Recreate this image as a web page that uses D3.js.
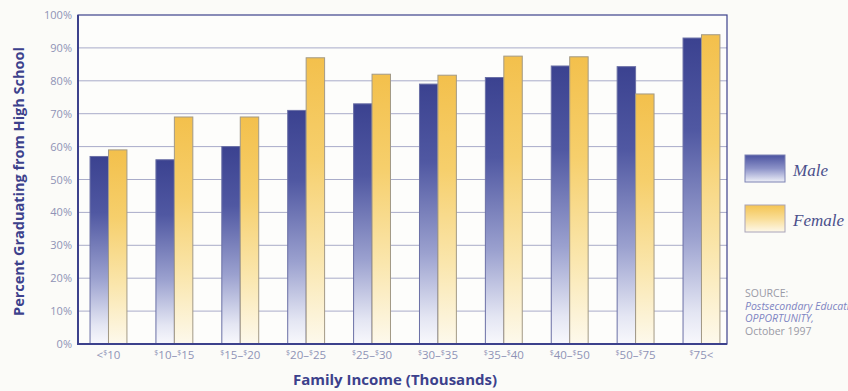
<!DOCTYPE html>
<html>
<head>
<meta charset="utf-8">
<script src="https://cdn.jsdelivr.net/npm/d3@7/dist/d3.min.js"></script>
<style>
  html, body { margin: 0; padding: 0; background: #fbfbf8; }
  svg { display: block; }
</style>
</head>
<body>
<svg id="chart" width="848" height="391"></svg>
<script>
// Income brackets (thousands of dollars) and graduation rates by sex
const categories = ["<$10", "$10–$15", "$15–$20", "$20–$25", "$25–$30", "$30–$35", "$35–$40", "$40–$50", "$50–$75", "$75<"];
const maleValues   = [57, 56, 60, 71, 73, 79, 81, 84.5, 84.3, 93];
const femaleValues = [59, 69, 69, 87, 82, 81.7, 87.5, 87.3, 76, 94];
const seriesNames = ["Male", "Female"];
const yTicks = [0, 10, 20, 30, 40, 50, 60, 70, 80, 90, 100];
const sourceLines = ["SOURCE:", "Postsecondary Education", "OPPORTUNITY,", "October 1997"];

const svg = d3.select("#chart");
const plotLeft = 78, plotRight = 727, plotTop = 15, plotBottom = 344;

const x = d3.scaleBand().domain(categories).range([plotLeft, plotRight])
  .paddingInner(0.44).paddingOuter(0.145).align(0.63);
const xs = d3.scaleBand().domain(seriesNames).range([0, x.bandwidth()]);
const y = d3.scaleLinear().domain([0, 100]).range([plotBottom, plotTop]);

const navy = "#3c418c";
const labelGrey = "#8f93b6";

// gradients
const defs = svg.append("defs");
function grad(id, stops) {
  const g = defs.append("linearGradient").attr("id", id)
    .attr("x1", 0).attr("y1", 0).attr("x2", 0).attr("y2", 1);
  stops.forEach(([o, c]) => g.append("stop").attr("offset", o).attr("stop-color", c));
}
grad("gMale", [[0, "#3b4290"], [0.3, "#5058a2"], [0.65, "#9ba1cf"], [0.9, "#e4e6f3"], [1, "#f8f8fc"]]);
grad("gFemale", [[0, "#f3c04c"], [0.35, "#f6cf6c"], [0.7, "#fae6ad"], [1, "#fdf9ec"]]);
grad("gMaleLeg", [[0, "#4a52a0"], [0.5, "#8c92c8"], [1, "#eef0f8"]]);
grad("gFemaleLeg", [[0, "#f4c452"], [0.5, "#f9dd95"], [1, "#fdf8ea"]]);

// plot background
svg.append("rect").attr("x", plotLeft).attr("y", plotTop)
  .attr("width", plotRight - plotLeft).attr("height", plotBottom - plotTop)
  .attr("fill", "#fdfdfb");

// horizontal grid
svg.append("g").selectAll("line").data(yTicks.filter(d => d > 0 && d < 100)).join("line")
  .attr("x1", plotLeft).attr("x2", plotRight)
  .attr("y1", d => y(d)).attr("y2", d => y(d))
  .attr("stroke", "#a9acc9").attr("stroke-width", 1);

// bars
const rows = categories.map((c, i) => ({ c, Male: maleValues[i], Female: femaleValues[i] }));
const groups = svg.append("g").selectAll("g").data(rows).join("g")
  .attr("transform", d => `translate(${x(d.c)},0)`);
groups.selectAll("rect").data(d => seriesNames.map(k => ({ k, v: d[k] }))).join("rect")
  .attr("x", d => xs(d.k)).attr("width", xs.bandwidth())
  .attr("y", d => y(d.v)).attr("height", d => y(0) - y(d.v))
  .attr("fill", d => d.k === "Male" ? "url(#gMale)" : "url(#gFemale)")
  .attr("stroke", d => d.k === "Male" ? "#6b70a6" : "#a39a86")
  .attr("stroke-width", 1);

// frame
svg.append("rect").attr("x", plotLeft).attr("y", plotTop)
  .attr("width", plotRight - plotLeft).attr("height", plotBottom - plotTop)
  .attr("fill", "none").attr("stroke", navy).attr("stroke-width", 1.2);
svg.append("path").attr("d", `M${plotLeft},${plotTop}V${plotBottom}H${plotRight}`)
  .attr("fill", "none").attr("stroke", navy).attr("stroke-width", 2);

// y axis labels
const yAxis = d3.axisLeft(y).tickValues(yTicks).tickFormat(d => d + "%").tickSize(0).tickPadding(6);
const ya = svg.append("g").attr("transform", `translate(${plotLeft},0)`).call(yAxis);
ya.select(".domain").remove();
ya.selectAll("text").attr("fill", labelGrey).style("font-family", "'Open Sans', sans-serif").style("font-size", "11px");

// x axis labels with superscript dollar signs
const xAxis = d3.axisBottom(x).tickSize(0).tickPadding(0).tickFormat("");
const xa = svg.append("g").attr("transform", `translate(0,${plotBottom})`).call(xAxis);
xa.select(".domain").remove();
xa.selectAll(".tick").each(function (d) {
  const t = d3.select(this).append("text").attr("y", 15).attr("text-anchor", "middle")
    .attr("fill", labelGrey).style("font-family", "'Open Sans', sans-serif").style("font-size", "11.5px");
  let raised = false;
  d.split(/(\$)/).filter(s => s.length).forEach(part => {
    if (part === "$") {
      t.append("tspan").attr("font-size", "7px").attr("dy", raised ? 0 : -4).text("$");
      raised = true;
    } else {
      t.append("tspan").attr("dy", raised ? 4 : 0).text(part);
      raised = false;
    }
  });
});

// axis titles
svg.append("text").attr("transform", `translate(24,${(plotTop + plotBottom) / 2 + 2}) rotate(-90)`)
  .attr("text-anchor", "middle").attr("fill", navy)
  .style("font-family", "'Open Sans', sans-serif").style("font-weight", "700").style("font-size", "14.5px")
  .text("Percent Graduating from High School");
svg.append("text").attr("x", 395).attr("y", 385).attr("text-anchor", "middle").attr("fill", navy)
  .style("font-family", "'Open Sans', sans-serif").style("font-weight", "700").style("font-size", "15px")
  .text("Family Income (Thousands)");

// legend
const legend = svg.append("g");
seriesNames.forEach((s, i) => {
  const ly = 155 + i * 50;
  legend.append("rect").attr("x", 745).attr("y", ly).attr("width", 40).attr("height", 27)
    .attr("fill", i === 0 ? "url(#gMaleLeg)" : "url(#gFemaleLeg)")
    .attr("stroke", i === 0 ? "#7d82b3" : "#a9a4b8").attr("stroke-width", 1);
  legend.append("text").attr("x", 793).attr("y", ly + 21).attr("fill", "#4b508c")
    .style("font-family", "'Liberation Serif', serif").style("font-style", "italic").style("font-size", "17px")
    .text(s);
});

// source note
const src = svg.append("g");
sourceLines.forEach((s, i) => {
  src.append("text").attr("x", 745).attr("y", 297 + i * 12.7)
    .attr("fill", (i === 1 || i === 2) ? "#7e84c2" : "#9a9aa6")
    .style("font-family", "'Open Sans', sans-serif").style("font-size", "10.5px")
    .style("font-style", (i === 1 || i === 2) ? "italic" : "normal")
    .text(s);
});
</script>
</body>
</html>
